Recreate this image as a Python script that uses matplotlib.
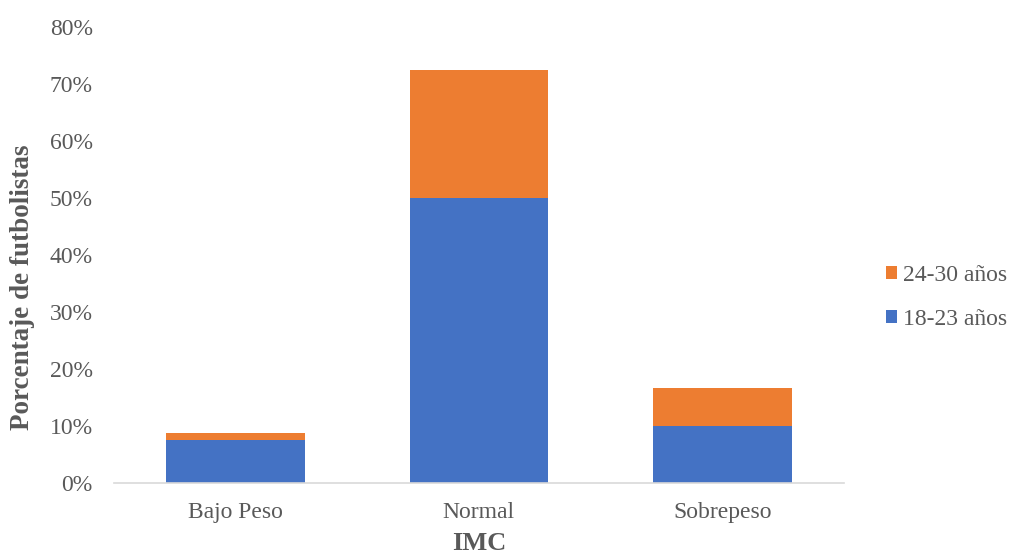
import matplotlib
matplotlib.use("Agg")
import matplotlib.pyplot as plt
from matplotlib.ticker import PercentFormatter
from matplotlib.patches import Patch

# BMI categories and share of players per age group
categories = ["Bajo Peso", "Normal", "Sobrepeso"]
age_18_23 = [7.7, 50.0, 10.0]
age_24_30 = [1.1, 22.5, 6.7]
series_labels = ["18-23 años", "24-30 años"]
y_ticks = [0, 10, 20, 30, 40, 50, 60, 70, 80]

blue = "#4472C4"
orange = "#ED7D31"
text_gray = "#595959"

plt.rcParams["font.family"] = ["Liberation Serif", "DejaVu Serif"]

fig = plt.figure(figsize=(10.11, 5.56), dpi=100)
ax = fig.add_axes([0.1124, 0.1304, 0.7226, 0.821])

x = range(len(categories))
ax.bar(x, age_18_23, width=0.57, color=blue, edgecolor="none")
ax.bar(x, age_24_30, width=0.57, bottom=age_18_23, color=orange, edgecolor="none")

ax.set_xlim(-0.5, len(categories) - 0.5)
ax.set_ylim(0, 80)
ax.set_yticks(y_ticks)
ax.yaxis.set_major_formatter(PercentFormatter(decimals=0))
ax.set_xticks(list(x))
ax.set_xticklabels(categories)

for side in ["top", "right", "left"]:
    ax.spines[side].set_visible(False)
ax.spines["bottom"].set_color("#D9D9D9")
ax.spines["bottom"].set_linewidth(1.2)

ax.tick_params(axis="both", length=0, labelsize=17, colors=text_gray)
ax.tick_params(axis="y", pad=15)
ax.tick_params(axis="x", pad=13)

ax.set_ylabel("Porcentaje de futbolistas", fontsize=19.5, fontweight="bold",
              color=text_gray)
ax.yaxis.set_label_coords(-0.107, 0.429)
ax.set_xlabel("IMC", fontsize=19, fontweight="bold", color=text_gray, labelpad=7)

handles = [Patch(facecolor=orange, label=series_labels[1]),
           Patch(facecolor=blue, label=series_labels[0])]
leg = fig.legend(handles=handles, loc="center left", bbox_to_anchor=(0.867, 0.465),
                 borderaxespad=0, frameon=False, fontsize=17,
                 handlelength=0.47, handleheight=0.47, handletextpad=0.25,
                 labelspacing=0.95)
for t in leg.get_texts():
    t.set_color(text_gray)

fig.savefig("out.png", dpi=100)
